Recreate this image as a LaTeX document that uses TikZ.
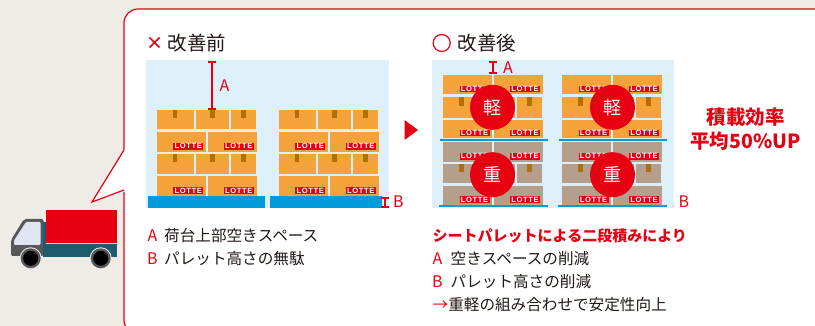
\documentclass[tikz,border=0pt]{standalone}
\usepackage{fontspec}
\setmainfont{Noto Sans CJK JP}
\newfontfamily\lottefont[LetterSpace=8]{Liberation Sans}
\usetikzlibrary{arrows.meta}

\definecolor{bgbeige}{HTML}{EFEBE7}
\definecolor{lotred}{HTML}{E60012}
\definecolor{boxorange}{HTML}{F4A33A}
\definecolor{boxgrey}{HTML}{B59E8A}
\definecolor{tapebrown}{HTML}{B06F0A}
\definecolor{palletblue}{HTML}{009BDB}
\definecolor{panelblue}{HTML}{DDF0FA}
\definecolor{inkgrey}{HTML}{231815}
\definecolor{cabgrey}{HTML}{58585A}
\definecolor{cabglass}{HTML}{DFE5F2}
\definecolor{trucktealc}{HTML}{1E5B6E}

\tikzset{
  lotte/.style={fill=lotred, text=white, minimum width=30pt, minimum height=6.7pt,
    inner sep=0pt, font=\lottefont\bfseries\fontsize{7.6}{7.6}\selectfont},
  gapmark/.style={draw=lotred, line width=2pt, {Bar[width=8pt,line width=2pt]}-{Bar[width=8pt,line width=2pt]}},
  heading/.style={anchor=west, inner sep=0pt, text=inkgrey, font=\fontsize{19.5}{20}\selectfont},
  listtext/.style={anchor=west, inner sep=0pt, text=inkgrey, font=\fontsize{15.6}{16}\selectfont},
  marklabel/.style={inner sep=0pt, text=lotred, font=\fontsize{16}{16}\selectfont},
  weightdisc/.style={circle, fill=lotred, minimum size=45pt, inner sep=0pt, text=white,
    font=\fontsize{18}{18}\selectfont},
}

% a row of three cartons, each with a strip of tape on top
\newcommand{\taperow}[4]{%
  \fill[#4] (#1,#2) rectangle ({#1+37},#3);
  \fill[#4] ({#1+39.3},#2) rectangle ({#1+72},#3);
  \fill[#4] ({#1+74.3},#2) rectangle ({#1+99},#3);
  \fill[tapebrown] ({#1+16.3},#2) rectangle ({#1+20.7},{#2+8.3});
  \fill[tapebrown] ({#1+53.4},#2) rectangle ({#1+57.8},{#2+8.3});
  \fill[tapebrown] ({#1+84.4},#2) rectangle ({#1+88.8},{#2+8.3});
}
% a row of two cartons, each with a printed LOTTE label
\newcommand{\labelrow}[4]{%
  \fill[#4] (#1,#2) rectangle ({#1+49},#3);
  \fill[#4] ({#1+51.3},#2) rectangle ({#1+100},#3);
  \node[lotte] at ({#1+31.6},{#3-5.4}) {LOTTE};
  \node[lotte] at ({#1+82},{#3-5.4}) {LOTTE};
}

\begin{document}
\begin{tikzpicture}[x=1pt, y=-1pt]
\useasboundingbox (0,0) rectangle (815,326);
\clip (0,0) rectangle (815,326);
\fill[bgbeige] (0,0) rectangle (815,326);

% speech-bubble frame with its tail towards the truck
\draw[fill=white, draw=lotred, line width=1.2pt, rounded corners=14pt] (124,9) rectangle (828,334);
\fill[white] (125.6,148) -- (92,202) -- (125.6,191.5) -- cycle;
\draw[lotred, line width=1.2pt, line join=miter] (124,150) -- (92,202) -- (124,190);

% truck
\fill[cabgrey, rounded corners=2pt] (11,256) -- (11,240) -- (24,219) -- (43.5,219) -- (43.5,256) -- cycle;
\fill[cabglass, rounded corners=1pt] (14,245) -- (14,240.5) -- (26,222) -- (40.5,222) -- (40.5,245) -- cycle;
\fill[trucktealc] (43,222) rectangle (117,257);
\fill[lotred] (46,210) rectangle (117,243);
\draw[white!80!trucktealc, line width=0.6pt] (46,243.3) -- (117,243.3);
\foreach \wx in {30.7, 100.7}{
  \fill[white!85!gray] (\wx,258.3) circle (11);
  \fill[cabgrey] (\wx,258.3) circle (10);
  \fill[black] (\wx,258.3) circle (7.5);
}

% ---------------- before ----------------
\draw[lotred, line width=1.5pt] (149.5,37.5) -- (159.5,47.5) (149.5,47.5) -- (159.5,37.5);
\node[heading] (beforehead) at (167.5,43) {改善前};

\fill[panelblue] (146,60) rectangle (389,208);

\foreach \sx in {156.7, 278.7}{
  \taperow{\sx}{110}{129.3}{boxorange}
  \labelrow{\sx}{132}{151.7}{boxorange}
  \taperow{\sx}{154}{173.7}{boxorange}
  \labelrow{\sx}{176}{196}{boxorange}
}
\fill[palletblue] (148,196) rectangle (265,208);
\fill[palletblue] (270,196) rectangle (381.5,208);

\draw[gapmark] (212.3,61) -- (212.3,110);
\node[marklabel] (markA1) at (224.5,86) {A};
\draw[gapmark] (384.5,197) -- (384.5,208);
\node[marklabel] (markB1) at (398.5,202) {B};

\node[marklabel] (listA1) at (152.5,235.5) {A};
\node[listtext] (textA1) at (164,235.5) {荷台上部空きスペース};
\node[marklabel] (listB1) at (152.5,258.5) {B};
\node[listtext] (textB1) at (164,258.5) {パレット高さの無駄};

% arrow between the two layouts
\fill[lotred] (404.5,120) -- (418,130) -- (404.5,140) -- cycle;

% ---------------- after ----------------
\draw[lotred, line width=1.2pt] (441.7,43) circle (8.5);
\node[heading] (afterhead) at (457.5,43) {改善後};

\fill[panelblue] (432,60) rectangle (674,208);

\foreach \sx in {443, 562}{
  \labelrow{\sx}{75}{94.3}{boxorange}
  \taperow{\sx}{97.5}{117.7}{boxorange}
  \labelrow{\sx}{120}{138.5}{boxorange}
  \labelrow{\sx}{141.7}{161.7}{boxgrey}
  \taperow{\sx}{164}{183.5}{boxgrey}
  \labelrow{\sx}{185.7}{205}{boxgrey}
  \fill[palletblue] ({\sx-3},139) rectangle ({\sx+105},141.4);
  \fill[palletblue] ({\sx-4},205) rectangle ({\sx+105},207.4);
}
\node[weightdisc] (light1) at (492.5,107.3) {軽};
\node[weightdisc] (heavy1) at (492.5,174.7) {重};
\node[weightdisc] (light2) at (612.5,107.3) {軽};
\node[weightdisc] (heavy2) at (612.5,174.7) {重};

\draw[gapmark] (492.7,61.5) -- (492.7,74.5);
\node[marklabel] (markA2) at (508,68) {A};
\node[marklabel] (markB2) at (684,202) {B};

\node[inner sep=0pt, text=lotred, align=center, font=\bfseries\fontsize{19.5}{24}\selectfont]
  (gain) at (745.5,129) {積載効率\\平均50\%UP};

\node[anchor=west, inner sep=0pt, text=lotred, font=\bfseries\fontsize{15}{16}\selectfont]
  (stackhead) at (432.5,235.5) {シートパレットによる二段積みにより};
\node[marklabel] (listA2) at (437.5,258.5) {A};
\node[listtext] (textA2) at (450.5,258.5) {空きスペースの削減};
\node[marklabel] (listB2) at (437.5,281.5) {B};
\node[listtext] (textB2) at (450.5,281.5) {パレット高さの削減};
\node[listtext] (textC2) at (432.5,304.5) {\textcolor{lotred}{→}重軽の組み合わせで安定性向上};
\end{tikzpicture}
\end{document}
